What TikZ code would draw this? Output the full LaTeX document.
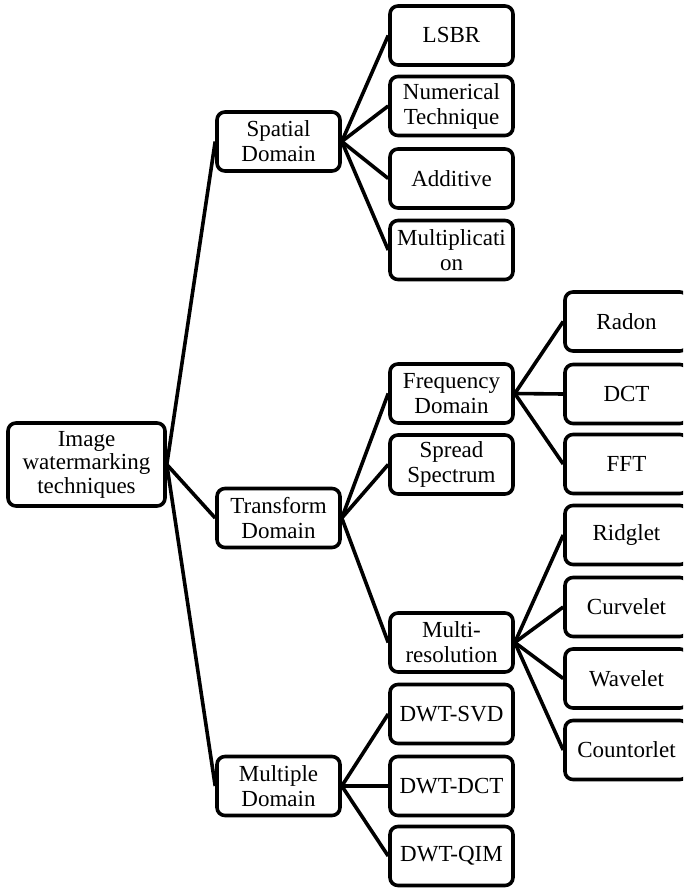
\documentclass[tikz,border=0pt]{standalone}
\usepackage{fontspec}
\setmainfont{Liberation Serif}
\begin{document}
\begin{tikzpicture}[x=1pt,y=-1pt,
  box/.style={draw=black, line width=3.6pt, rounded corners=8pt, fill=white,
    minimum width=123pt, minimum height=59pt, inner sep=0pt, align=center,
    font=\fontsize{23}{25}\selectfont},
  rootbox/.style={box, minimum width=157pt, minimum height=83pt,
    font=\fontsize{23}{23.5}\selectfont},
  link/.style={draw=black, line width=3.6pt}]
\useasboundingbox (0,0) rectangle (683,890);
\clip (0,0) rectangle (683,890);
% root
\node[rootbox] (root) at (86.5,464.5) {Image\\watermarking\\techniques};
% level 1
\node[box] (spa) at (278.5,141.5) {Spatial\\Domain};
\node[box] (tra) at (278.5,518) {Transform\\Domain};
\node[box] (mul) at (278.5,786) {Multiple\\Domain};
% level 2
\node[box] (lsbr) at (451.5,35.5) {LSBR};
\node[box] (num) at (451.5,106) {Numerical\\Technique};
\node[box] (add) at (451.5,178.5) {Additive};
\node[box] (mpl) at (451.5,250) {Multiplicati\\on};
\node[box] (fre) at (451.5,393.5) {Frequency\\Domain};
\node[box] (spr) at (451.5,464.5) {Spread\\Spectrum};
\node[box] (mres) at (451.5,642.5) {Multi-\\resolution};
\node[box] (svd) at (451.5,714) {DWT-SVD};
\node[box] (dd) at (451.5,786) {DWT-DCT};
\node[box] (qim) at (451.5,856) {DWT-QIM};
% level 3
\node[box] (rad) at (626.5,321.5) {Radon};
\node[box] (dct) at (626.5,394) {DCT};
\node[box] (fft) at (626.5,464) {FFT};
\node[box] (rid) at (626.5,535) {Ridglet};
\node[box] (cur) at (626.5,607) {Curvelet};
\node[box] (wav) at (626.5,678.5) {Wavelet};
\node[box] (cou) at (626.5,750) {Countorlet};
% connectors
\foreach \a/\b in {root/spa,root/tra,root/mul,
  spa/lsbr,spa/num,spa/add,spa/mpl,
  tra/fre,tra/spr,tra/mres,
  fre/rad,fre/dct,fre/fft,
  mres/rid,mres/cur,mres/wav,mres/cou,
  mul/svd,mul/dd,mul/qim}
  \draw[link] (\a.east) -- (\b.west);
\end{tikzpicture}
\end{document}
